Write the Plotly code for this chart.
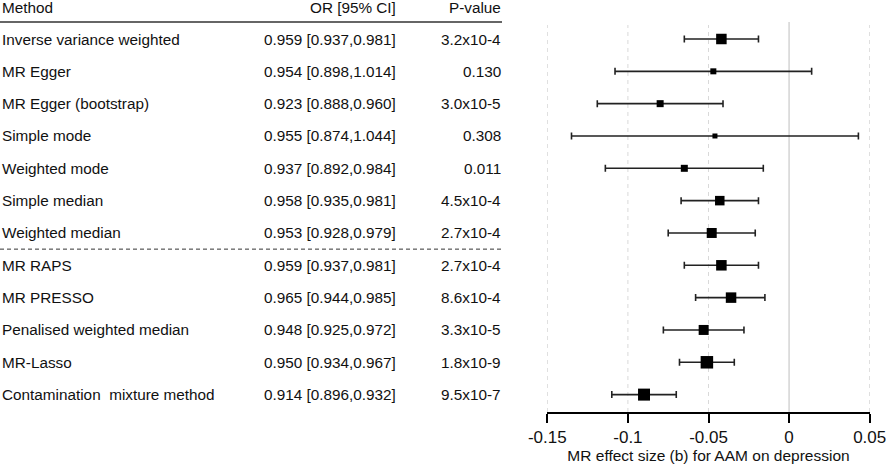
import plotly.graph_objects as go

W, H = 886, 471

methods = ['Inverse variance weighted', 'MR Egger', 'MR Egger (bootstrap)', 'Simple mode',
           'Weighted mode', 'Simple median', 'Weighted median', 'MR RAPS', 'MR PRESSO',
           'Penalised weighted median', 'MR-Lasso', 'Contamination  mixture method']
or_ci = ['0.959 [0.937,0.981]', '0.954 [0.898,1.014]', '0.923 [0.888,0.960]', '0.955 [0.874,1.044]',
         '0.937 [0.892,0.984]', '0.958 [0.935,0.981]', '0.953 [0.928,0.979]', '0.959 [0.937,0.981]',
         '0.965 [0.944,0.985]', '0.948 [0.925,0.972]', '0.950 [0.934,0.967]', '0.914 [0.896,0.932]']
p_values = ['3.2x10-4', '0.130', '3.0x10-5', '0.308', '0.011', '4.5x10-4', '2.7x10-4',
            '2.7x10-4', '8.6x10-4', '3.3x10-5', '1.8x10-9', '9.5x10-7']
beta = [-0.042, -0.047, -0.080, -0.046, -0.065, -0.043, -0.048, -0.042, -0.036, -0.053, -0.051, -0.090]
lower = [-0.065, -0.108, -0.119, -0.135, -0.114, -0.067, -0.075, -0.065, -0.058, -0.078, -0.068, -0.110]
upper = [-0.019, 0.014, -0.041, 0.043, -0.016, -0.019, -0.021, -0.019, -0.015, -0.028, -0.034, -0.070]
box_size = [10.5, 6, 7, 5, 7, 9.5, 10, 10.5, 10.5, 10, 12.5, 12]

tick_vals = [-0.15, -0.1, -0.05, 0, 0.05]
tick_text = ['-0.15', '-0.1', '-0.05', '0', '0.05']

FONT = 'Liberation Sans, Arial, sans-serif'
TXT = '#111111'
Y_BOT, Y_TOP = 1 - 412 / H, 1 - 22 / H

fig = go.Figure()
# whiskers first, boxes on top
fig.add_trace(go.Scatter(
    x=beta, y=methods, mode='markers', marker=dict(size=1, opacity=0),
    error_x=dict(type='data', symmetric=False,
                 array=[u - b for u, b in zip(upper, beta)],
                 arrayminus=[b - l for b, l in zip(beta, lower)],
                 color='#222222', thickness=1.6, width=3.5),
    showlegend=False, hoverinfo='skip'))
fig.add_trace(go.Scatter(
    x=beta, y=methods, mode='markers',
    marker=dict(symbol='square', size=box_size, color='black', opacity=1, line=dict(width=0)),
    showlegend=False, hoverinfo='skip'))

# reference lines at the ticks (dashed, zero solid)
for v in tick_vals:
    if v == 0:
        fig.add_shape(type='line', xref='x', yref='paper', x0=v, x1=v, y0=Y_BOT, y1=Y_TOP,
                      line=dict(color='#d4d4d4', width=1.5), layer='below')
    else:
        fig.add_shape(type='line', xref='x', yref='paper', x0=v, x1=v, y0=Y_BOT, y1=1 - 25 / H,
                      line=dict(color='#d9d9d9', width=1, dash='4px,4px'), layer='below')

# table columns
x_method, x_or, x_p = 0 / W, 398 / W, 503 / W
col_font = dict(size=15.3, color=TXT, family=FONT)
for col_x, anchor, txt in [(x_method, 'left', 'Method'), (x_or, 'right', 'OR [95% CI]'), (x_p, 'right', 'P-value')]:
    fig.add_annotation(x=col_x, y=1 - 8 / H, xref='paper', yref='paper', text=txt, showarrow=False,
                       xanchor=anchor, yanchor='middle', font=col_font)
for m, o, p in zip(methods, or_ci, p_values):
    fig.add_annotation(x=x_method, y=m, xref='paper', yref='y', text=m, showarrow=False,
                       xanchor='left', yanchor='middle', font=col_font)
    fig.add_annotation(x=x_or, y=m, xref='paper', yref='y', text=o, showarrow=False,
                       xanchor='right', yanchor='middle', font=col_font)
    fig.add_annotation(x=x_p, y=m, xref='paper', yref='y', text=p, showarrow=False,
                       xanchor='right', yanchor='middle', font=col_font)

# header rule and group separator
fig.add_shape(type='line', xref='paper', yref='paper', x0=0, x1=502 / W, y0=Y_TOP, y1=Y_TOP,
              line=dict(color='#333333', width=1.5))
fig.add_shape(type='line', xref='paper', yref='y', x0=0, x1=502 / W, y0=6.5, y1=6.5,
              line=dict(color='#333333', width=1, dash='4px,3px'))

fig.update_layout(
    width=W, height=H, margin=dict(l=0, r=0, t=0, b=0),
    paper_bgcolor='white', plot_bgcolor='white',
    font=dict(family=FONT, color=TXT),
    xaxis=dict(domain=[547 / W, 870 / W], range=[-0.1502, 0.0502], tickvals=tick_vals, ticktext=tick_text,
               showgrid=False, zeroline=False, ticklabeloverflow='allow',
               showline=True, linecolor='black', linewidth=1.5,
               ticks='outside', ticklen=9, tickwidth=1.5, tickcolor='black',
               tickfont=dict(size=17, color=TXT, family=FONT),
               title=dict(text='MR effect size (b) for AAM on depression', standoff=1,
                          font=dict(size=15.5, color=TXT, family=FONT)),
               automargin=False),
    yaxis=dict(domain=[Y_BOT, Y_TOP], range=[11.538, -0.526], type='category',
               categoryorder='array', categoryarray=methods, visible=False),
)

fig.write_html('out.html', config={'displayModeBar': False},
               post_script="document.body.style.margin='0';")
